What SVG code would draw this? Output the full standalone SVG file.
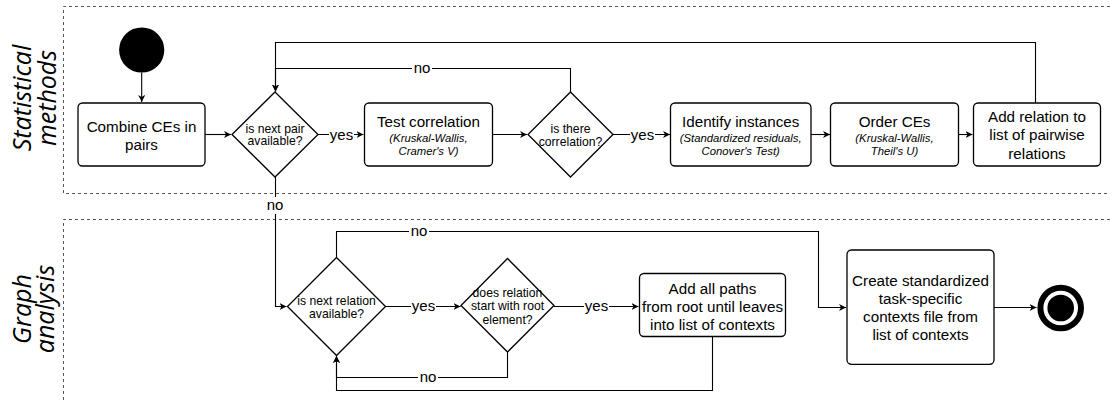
<svg xmlns="http://www.w3.org/2000/svg" width="1110" height="401" viewBox="0 0 1110 401">
<style>
.lane{fill:none;stroke:#555;stroke-width:1;stroke-dasharray:3 3}
.lbl{font-family:"Open Sans","Noto Sans",sans-serif;font-style:italic;font-size:25px;fill:#000;text-anchor:middle}
.box{fill:#fff;stroke:#000;stroke-width:1.3}
.t{font-family:"Liberation Sans",Arial,sans-serif;font-size:15.2px;fill:#000;text-anchor:middle}
.i{font-family:"Liberation Sans",Arial,sans-serif;font-size:11.3px;font-style:italic;fill:#000;text-anchor:middle}
.d{font-family:"Liberation Sans",Arial,sans-serif;font-size:12.2px;fill:#000;text-anchor:middle}
.c{fill:none;stroke:#000;stroke-width:1.1;marker-end:url(#arr)}
.cl{font-family:"Liberation Sans",Arial,sans-serif;font-size:15px;fill:#000;text-anchor:middle}
.bg{fill:#fff}
</style>
<defs>
<marker id="arr" markerUnits="userSpaceOnUse" markerWidth="9" markerHeight="8" refX="7" refY="3.5" orient="auto">
<path d="M0,0 L7,3.5 L0,7 L2,3.5 z" fill="#000"/>
</marker>
</defs>

<g id="lanes">
<path class="lane" d="M1110,6.5 H63.5 V193.5 H1110"/>
<path class="lane" d="M1110,219.5 H63.5 V401"/>
<text class="lbl" transform="translate(31,98) rotate(-90)">Statistical</text>
<text class="lbl" transform="translate(56,98) rotate(-90)">methods</text>
<text class="lbl" transform="translate(31,309) rotate(-90)">Graph</text>
<text class="lbl" transform="translate(54,309) rotate(-90)">analysis</text>
</g>

<g id="connectors">
<path class="c" d="M141.7,72.5 V102"/>
<path class="c" d="M205,134.5 H231"/>
<path class="c" d="M317.5,134.5 H363.5"/>
<path class="c" d="M492.5,134.5 H527"/>
<path class="c" d="M612.5,134.5 H670"/>
<path class="c" d="M811,134.5 H830"/>
<path class="c" d="M958.5,134.5 H972.5"/>
<path class="c" d="M1035.5,103 V42.5 H275.5 V91.5"/>
<path class="c" d="M570.5,92 V68.5 H275.5 V91.5"/>
<path class="c" d="M275.5,177 V306.5 H286.5"/>
<path class="c" d="M385,306.5 H460.5"/>
<path class="c" d="M554,306.5 H638.5"/>
<path class="c" d="M336.5,257.5 V231.5 H818.5 V307.5 H846"/>
<path class="c" d="M507.5,352 V377.5 H336.5 V356"/>
<path class="c" d="M712.5,337 V390.5 H336.5 V356"/>
<path class="c" d="M994,307.5 H1036.5"/>
<rect class="bg" x="329" y="126" width="25" height="17"/>
<text class="cl" x="341.5" y="139.5">yes</text>
<rect class="bg" x="630" y="126" width="25" height="17"/>
<text class="cl" x="642.5" y="139.5">yes</text>
<rect class="bg" x="412" y="60" width="20" height="17"/>
<text class="cl" x="422" y="72.5">no</text>
<rect class="bg" x="265" y="197" width="20" height="17"/>
<text class="cl" x="275" y="209.5">no</text>
<rect class="bg" x="411" y="298" width="25" height="17"/>
<text class="cl" x="423.5" y="310.5">yes</text>
<rect class="bg" x="584" y="298" width="25" height="17"/>
<text class="cl" x="596.5" y="310.5">yes</text>
<rect class="bg" x="409" y="223" width="20" height="17"/>
<text class="cl" x="419" y="235.5">no</text>
<rect class="bg" x="418" y="369" width="20" height="17"/>
<text class="cl" x="428" y="381.5">no</text>
</g>

<g id="start">
<circle cx="141.7" cy="50" r="22.6" fill="#000"/>
</g>

<g id="combine">
<rect class="box" x="78" y="103" width="127" height="63" rx="4.5"/>
<text class="t" x="141.5" y="132">Combine CEs in</text>
<text class="t" x="141.5" y="150">pairs</text>
</g>

<g id="d-next-pair">
<polygon class="box" points="275,92 318,134.5 275,177 232,134.5"/>
<text class="d" x="275" y="132.5">is next pair</text>
<text class="d" x="275" y="145">available?</text>
</g>

<g id="test-correlation">
<rect class="box" x="364.5" y="103" width="128" height="63" rx="4.5"/>
<text class="t" x="428.5" y="127">Test correlation</text>
<text class="i" x="428.5" y="142">(Kruskal-Wallis,</text>
<text class="i" x="428.5" y="154.5">Cramer's V)</text>
</g>

<g id="d-correlation">
<polygon class="box" points="570.5,92 613,134.5 570.5,177 528,134.5"/>
<text class="d" x="570.5" y="132.5">is there</text>
<text class="d" x="570.5" y="145.5">correlation?</text>
</g>

<g id="identify">
<rect class="box" x="670.5" y="103" width="140.5" height="63" rx="4.5"/>
<text class="t" x="740.7" y="127">Identify instances</text>
<text class="i" x="740.7" y="142">(Standardized residuals,</text>
<text class="i" x="740.7" y="154.5">Conover's Test)</text>
</g>

<g id="order">
<rect class="box" x="830.5" y="103" width="128" height="63" rx="4.5"/>
<text class="t" x="894.5" y="127">Order CEs</text>
<text class="i" x="894.5" y="142">(Kruskal-Wallis,</text>
<text class="i" x="894.5" y="154.5">Theil's U)</text>
</g>

<g id="add-relation">
<rect class="box" x="973.5" y="103" width="127" height="63" rx="4.5"/>
<text class="t" x="1037" y="122">Add relation to</text>
<text class="t" x="1037" y="140.3">list of pairwise</text>
<text class="t" x="1037" y="158.6">relations</text>
</g>

<g id="d-next-relation">
<polygon class="box" points="336.5,257.5 385.5,306.5 336.5,355.5 287.5,306.5"/>
<text class="d" x="336.5" y="304.5">is next relation</text>
<text class="d" x="336.5" y="317.5">available?</text>
</g>

<g id="d-root">
<polygon class="box" points="507.5,258.5 554,305.5 507.5,352 461,305.5"/>
<text class="d" x="507.5" y="296.5">does relation</text>
<text class="d" x="507.5" y="310">start with root</text>
<text class="d" x="507.5" y="323.5">element?</text>
</g>

<g id="add-paths">
<rect class="box" x="639.5" y="273.5" width="146" height="63" rx="4.5"/>
<text class="t" x="712.5" y="293.6">Add all paths</text>
<text class="t" x="712.5" y="312">from root until leaves</text>
<text class="t" x="712.5" y="330">into list of contexts</text>
</g>

<g id="create-file">
<rect class="box" x="847" y="250" width="147" height="114.3" rx="4.5"/>
<text class="t" x="920.5" y="286.3">Create standardized</text>
<text class="t" x="920.5" y="304.3">task-specific</text>
<text class="t" x="920.5" y="322.3">contexts file from</text>
<text class="t" x="920.5" y="340.3">list of contexts</text>
</g>

<g id="end">
<circle cx="1060.7" cy="308" r="20.3" fill="#fff" stroke="#000" stroke-width="6"/>
<circle cx="1060.7" cy="308" r="13.3" fill="#000"/>
</g>
</svg>
